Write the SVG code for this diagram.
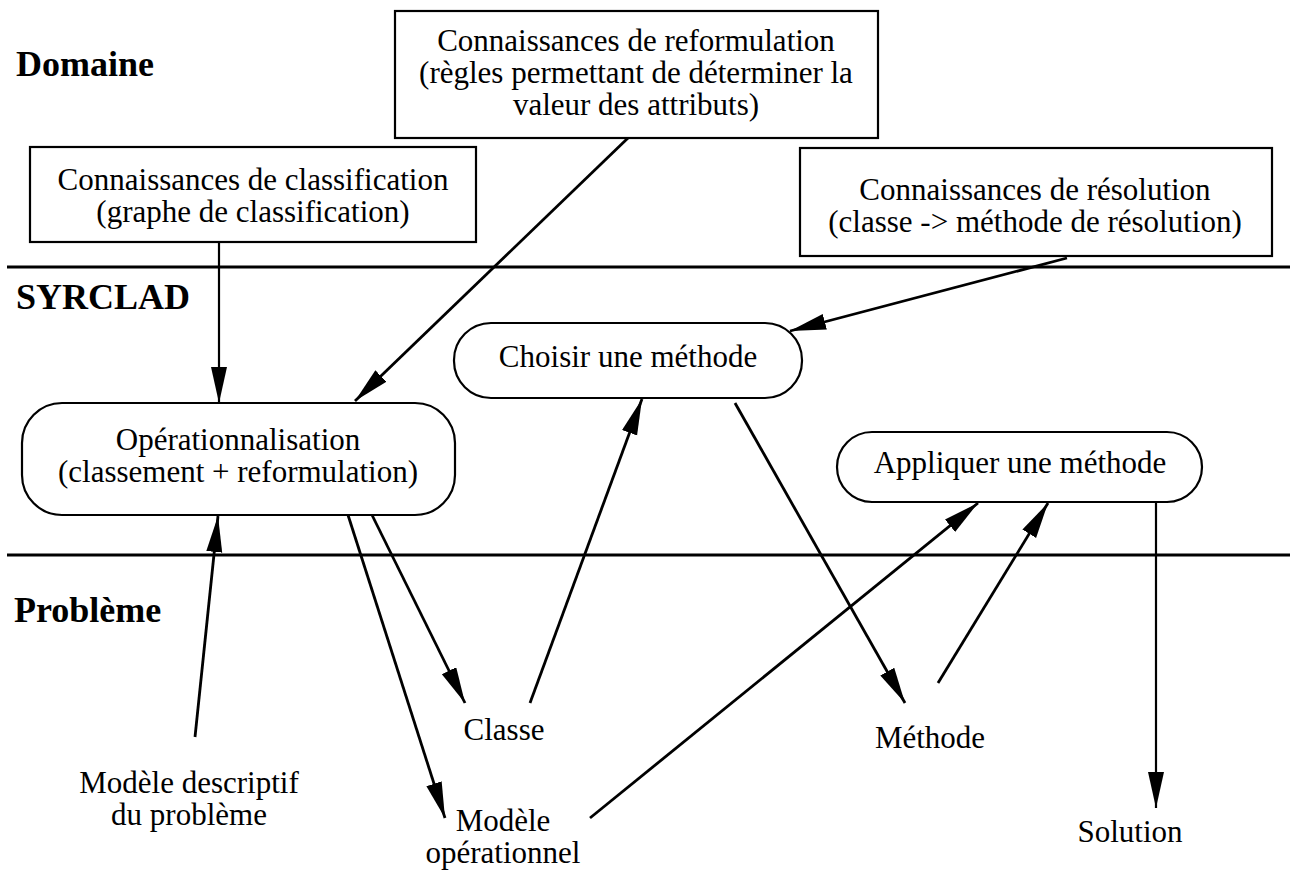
<svg xmlns="http://www.w3.org/2000/svg" width="1290" height="870" viewBox="0 0 1290 870">
<style>
  .t { font-family: "Liberation Serif", "Times New Roman", serif; font-size: 31px; fill: #000; text-anchor: middle; }
  .lbl { font-family: "Liberation Serif", "Times New Roman", serif; font-size: 36px; font-weight: bold; fill: #000; }
  .box { fill: #fff; stroke: #000; stroke-width: 2.2; }
  .sep { stroke: #000; stroke-width: 3; }
  .c { stroke: #000; stroke-width: 2.8; fill: none; marker-end: url(#ah); }
  .cv { stroke: #000; stroke-width: 2.2; fill: none; marker-end: url(#ah); }
</style>
<defs>
  <marker id="ah" markerUnits="userSpaceOnUse" markerWidth="38" markerHeight="18" refX="36" refY="8" orient="auto">
    <path d="M0,0 L36,8 L0,16 z" fill="#000"/>
  </marker>
</defs>
<rect width="1290" height="870" fill="#fff"/>

<g id="separators">
  <line class="sep" x1="7" y1="267" x2="1290" y2="267"/>
  <line class="sep" x1="7" y1="555" x2="1290" y2="555"/>
</g>

<g id="layer-labels">
  <text class="lbl" x="16" y="76">Domaine</text>
  <text class="lbl" x="16" y="309">SYRCLAD</text>
  <text class="lbl" x="14" y="622">Problème</text>
</g>

<g id="connectors">
  <line class="cv" x1="219" y1="242" x2="219" y2="403"/>
  <line class="c" x1="628" y1="138" x2="355" y2="401"/>
  <line class="c" x1="1067" y1="258" x2="790" y2="331"/>
  <line class="c" x1="195" y1="737" x2="218" y2="516"/>
  <line class="c" x1="372" y1="515" x2="465" y2="703"/>
  <line class="c" x1="348" y1="515" x2="445" y2="818"/>
  <line class="c" x1="530" y1="703" x2="642" y2="399"/>
  <line class="c" x1="735" y1="403" x2="905" y2="703"/>
  <line class="c" x1="590" y1="818" x2="978" y2="503"/>
  <line class="c" x1="938" y1="683" x2="1048" y2="503"/>
  <line class="cv" x1="1156" y1="503" x2="1156" y2="808"/>
</g>

<g id="n-reformulation">
  <rect class="box" x="395" y="11" width="483" height="127"/>
  <text class="t" x="636" y="51">Connaissances de reformulation</text>
  <text class="t" x="636" y="83">(règles permettant de déterminer la</text>
  <text class="t" x="636" y="115">valeur des attributs)</text>
</g>

<g id="n-classification">
  <rect class="box" x="30" y="147" width="446" height="95"/>
  <text class="t" x="253" y="190">Connaissances de classification</text>
  <text class="t" x="253" y="222">(graphe de classification)</text>
</g>

<g id="n-resolution">
  <rect class="box" x="800" y="148" width="472" height="108"/>
  <text class="t" x="1035" y="200">Connaissances de résolution</text>
  <text class="t" x="1035" y="232">(classe -&gt; méthode de résolution)</text>
</g>

<g id="n-operationnalisation">
  <rect class="box" x="22" y="403" width="433" height="112" rx="40" ry="40"/>
  <text class="t" x="238" y="450">Opérationnalisation</text>
  <text class="t" x="238" y="482">(classement + reformulation)</text>
</g>

<g id="n-choisir">
  <rect class="box" x="454" y="323" width="348" height="75" rx="37" ry="37"/>
  <text class="t" x="628" y="367">Choisir une méthode</text>
</g>

<g id="n-appliquer">
  <rect class="box" x="837" y="432" width="365" height="70" rx="35" ry="35"/>
  <text class="t" x="1020" y="473">Appliquer une méthode</text>
</g>

<g id="n-modele-descriptif">
  <text class="t" x="189" y="793">Modèle descriptif</text>
  <text class="t" x="189" y="825">du problème</text>
</g>

<g id="n-classe">
  <text class="t" x="504" y="740">Classe</text>
</g>

<g id="n-modele-operationnel">
  <text class="t" x="503" y="831">Modèle</text>
  <text class="t" x="503" y="863">opérationnel</text>
</g>

<g id="n-methode">
  <text class="t" x="930" y="748">Méthode</text>
</g>

<g id="n-solution">
  <text class="t" x="1130" y="842">Solution</text>
</g>
</svg>
